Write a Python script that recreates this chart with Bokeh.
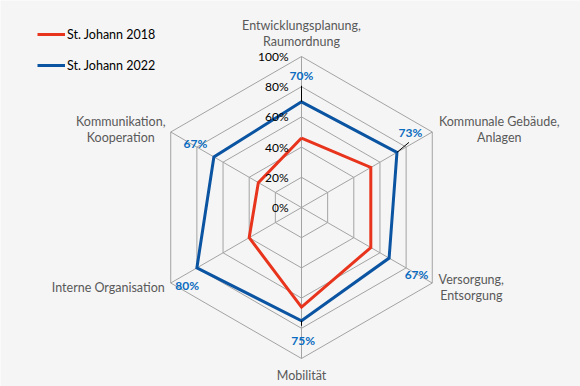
import numpy as np
from bokeh.plotting import figure
from bokeh.models import Range1d, Legend, LegendItem
from bokeh.embed import file_html
from bokeh.resources import INLINE
from bokeh.core.properties import value

# ---------------- data ----------------
categories = [
    "Entwicklungsplanung,\nRaumordnung",
    "Kommunale Gebäude,\nAnlagen",
    "Versorgung,\nEntsorgung",
    "Mobilität",
    "Interne Organisation",
    "Kommunikation,\nKooperation",
]
series_names = ["St. Johann 2018", "St. Johann 2022"]
values_2018 = [0.46, 0.53, 0.53, 0.66, 0.40, 0.33]
values_2022 = [0.70, 0.73, 0.67, 0.75, 0.80, 0.67]
tick_values = [0.0, 0.2, 0.4, 0.6, 0.8, 1.0]
tick_labels = ["0%", "20%", "40%", "60%", "80%", "100%"]
data_labels_2022 = ["70%", "73%", "67%", "75%", "80%", "67%"]

# ---------------- geometry / style ----------------
FONT_NAME = "Lato"
FONT = value(FONT_NAME)
S = 151.0            # pixels per unit radius
W, H = 580, 386
CX, CY = 301, 207    # centre in figure pixels (from left / top)
GRID = "#a3a3a3"
RED = "#e8341c"
BLUE = "#0b54a2"
LBLUE = "#0a6cc0"
CATCOL = "#595959"

n = len(categories)
ang = np.deg2rad(90 - 60 * np.arange(n))
cosA, sinA = np.cos(ang), np.sin(ang)

p = figure(width=W, height=H, output_backend="svg", toolbar_location=None,
           x_range=Range1d(-CX / S, (W - CX) / S),
           y_range=Range1d(-(H - CY) / S, CY / S),
           x_axis_location=None, y_axis_location=None,
           min_border=0, background_fill_color="#f5f5f5",
           border_fill_color="#f5f5f5", outline_line_color=None)
p.grid.visible = False

# rings
ring_xs, ring_ys = [], []
for t in tick_values[1:]:
    ring_xs.append(list(np.append(t * cosA, t * cosA[0])))
    ring_ys.append(list(np.append(t * sinA, t * sinA[0])))
p.multi_line(ring_xs, ring_ys, line_color=GRID, line_width=1)
# spokes
p.multi_line([[0, c] for c in cosA], [[0, s] for s in sinA],
             line_color=GRID, line_width=1)

# series
def closed(vals):
    v = np.array(vals)
    return list(np.append(v * cosA, v[0] * cosA[0])), list(np.append(v * sinA, v[0] * sinA[0]))

x18, y18 = closed(values_2018)
x22, y22 = closed(values_2022)
r18 = p.line(x18, y18, line_color=RED, line_width=3, line_join="miter")
r22 = p.line(x22, y22, line_color=BLUE, line_width=3, line_join="miter")

# leader lines (label -> point), pixel ends relative to point
leader_ends = {0: (0, -16), 1: (12, -10), 3: (0, 5)}
lx, ly = [], []
for i, (dx, dy) in leader_ends.items():
    px, py = values_2022[i] * cosA[i], values_2022[i] * sinA[i]
    lx.append([px, px + dx / S])
    ly.append([py, py - dy / S])
p.multi_line(lx, ly, line_color="black", line_width=1)

# tick labels
p.text(x=[-13 / S] * len(tick_values), y=tick_values, text=tick_labels,
       text_align="right", text_baseline="middle", text_font=FONT,
       text_font_size="12px", text_color="black")

# data labels for 2022 (pixel offsets from the point)
dl_off = [(0, -26), (13.5, -20), (27.4, 16.4), (1.7, 19.7), (-9.7, 17.9), (-18.4, -13.1)]
dlx = [values_2022[i] * cosA[i] + dl_off[i][0] / S for i in range(n)]
dly = [values_2022[i] * sinA[i] - dl_off[i][1] / S for i in range(n)]
p.text(x=dlx, y=dly, text=data_labels_2022, text_align="center",
       text_baseline="middle", text_font=FONT, text_font_size="12px",
       text_font_style="bold", text_color=LBLUE)

# category labels (pixel offsets from outer vertex for each line)
cat_off = [
    [(0, -31), (0, -15)],
    [(67, -10.5), (67, 5.5)],
    [(39, -3.5), (39, 12.5)],
    [(0, 17)],
    [(-6, 4.5)],
    [(-50, -10.5), (-50, 5.5)],
]
cat_align = ["center", "center", "center", "center", "right", "center"]
for i, cat in enumerate(categories):
    for line, (dx, dy) in zip(cat.split("\n"), cat_off[i]):
        p.text(x=[cosA[i] + dx / S], y=[sinA[i] - dy / S], text=[line],
               text_align=cat_align[i], text_baseline="middle", text_font=FONT,
               text_font_size="12.5px", text_color=CATCOL)

legend = Legend(items=[LegendItem(label=series_names[0], renderers=[r18]),
                       LegendItem(label=series_names[1], renderers=[r22])],
                location=(37, 311), orientation="vertical", padding=0, margin=0,
                spacing=11, glyph_width=28, glyph_height=20, label_height=20,
                label_standoff=2, label_text_font=FONT_NAME, label_text_font_size="12.5px",
                label_text_color="black", background_fill_alpha=0, border_line_alpha=0)
p.add_layout(legend)

html = file_html(p, INLINE)
html = html.replace("<body>", '<body style="background-color:#f5f5f5;">', 1)
open("out.html", "w").write(html)
